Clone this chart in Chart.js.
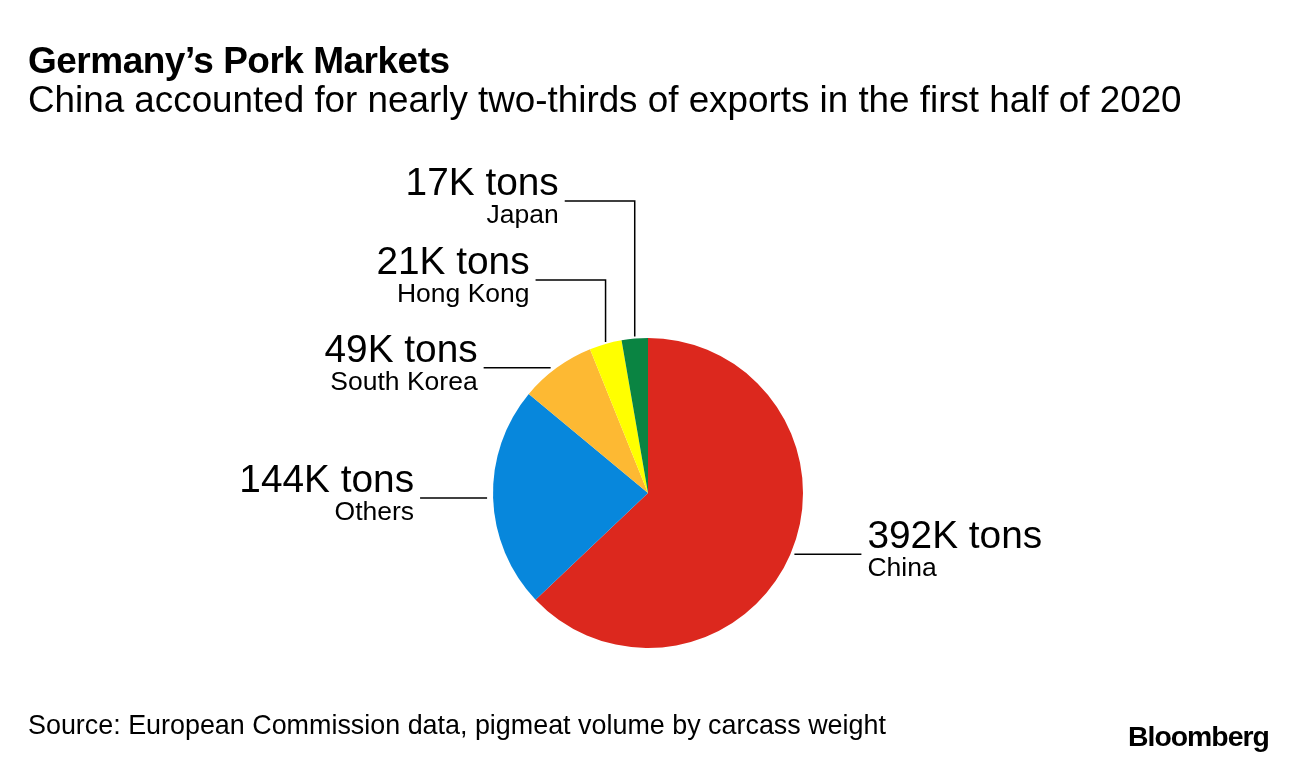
<!DOCTYPE html>
<html>
<head>
<meta charset="utf-8">
<script src="https://cdn.jsdelivr.net/npm/chart.js@4.4.1/dist/chart.umd.min.js"></script>
<style>
  html, body { margin: 0; padding: 0; background: #fff; }
  body { width: 1296px; height: 766px; position: relative; overflow: hidden; font-family: "Liberation Sans", Arial, sans-serif; color: #000; }
  #title, #subtitle, #source, #logo { position: absolute; line-height: 1; white-space: nowrap; }
  #title { left: 28px; top: 42px; font-size: 37px; font-weight: bold; letter-spacing: -0.5px; }
  #subtitle { left: 28px; top: 82px; font-size: 36.8px; }
  #source { left: 28px; top: 712px; font-size: 26.9px; }
  #logo { left: 1128px; top: 722px; font-size: 28.4px; font-weight: bold; letter-spacing: -1px; }
  #wrap { position: absolute; left: 0; top: 0; width: 1296px; height: 766px; }
</style>
</head>
<body>
<div id="wrap"><canvas id="pie-chart"></canvas></div>
<div id="title">Germany’s Pork Markets</div>
<div id="subtitle">China accounted for nearly two-thirds of exports in the first half of 2020</div>
<div id="source">Source: European Commission data, pigmeat volume by carcass weight</div>
<div id="logo">Bloomberg</div>
<script>
// 2020 H1 German pork exports, thousand tons
var countries = ["China", "Others", "South Korea", "Hong Kong", "Japan"];
var volumes = [392, 144, 49, 21, 17];
var slice_colors = ["#dc281e", "#0787dc", "#fdb933", "#ffff00", "#0a8442"];

// where each label sits relative to its slice
var label_side = ["right", "left", "left", "left", "left"];
var label_elbow_y = [null, null, null, 280, 201];
var line_len = 67;
var elbow_len = 70;

var labelPlugin = {
  id: 'sliceLabels',
  afterDatasetsDraw: function(chart) {
    var ctx = chart.ctx;
    var arcs = chart.getDatasetMeta(0).data;
    ctx.save();
    ctx.strokeStyle = "#000";
    ctx.lineWidth = 1.5;
    ctx.fillStyle = "#000";
    arcs.forEach(function(arc, i) {
      var mid = (arc.startAngle + arc.endAngle) / 2;
      var px = arc.x + Math.cos(mid) * arc.outerRadius;
      var py = arc.y + Math.sin(mid) * arc.outerRadius;
      var ly, lx0, lx1;
      ctx.beginPath();
      if (label_elbow_y[i] != null) {
        ly = label_elbow_y[i];
        ctx.moveTo(px, py - 2);
        ctx.lineTo(px, ly);
        lx0 = px; lx1 = px - elbow_len;
      } else {
        ly = py;
        if (label_side[i] == "right") { lx0 = px + 4; lx1 = lx0 + line_len; }
        else { lx0 = px - 6; lx1 = lx0 - line_len; }
        ctx.moveTo(lx0, ly);
      }
      ctx.lineTo(lx1, ly);
      ctx.stroke();

      var tx = label_side[i] == "right" ? lx1 + 6 : lx1 - 6;
      ctx.textAlign = label_side[i] == "right" ? "left" : "right";
      ctx.textBaseline = "alphabetic";
      ctx.font = '38.8px "Liberation Sans", Arial, sans-serif';
      ctx.fillText(volumes[i] + "K tons", tx, ly - 6);
      ctx.font = '26.5px "Liberation Sans", Arial, sans-serif';
      ctx.fillText(countries[i], tx, ly + 22);
    });
    ctx.restore();
  }
};

new Chart(document.getElementById("pie-chart"), {
  type: 'pie',
  data: {
    labels: countries,
    datasets: [{
      data: volumes,
      backgroundColor: slice_colors,
      borderWidth: 0
    }]
  },
  options: {
    responsive: true,
    maintainAspectRatio: false,
    animation: false,
    layout: { padding: { left: 493, right: 493, top: 338, bottom: 118 } },
    plugins: {
      legend: { display: false },
      tooltip: { enabled: false }
    }
  },
  plugins: [labelPlugin]
});
</script>
</body>
</html>
